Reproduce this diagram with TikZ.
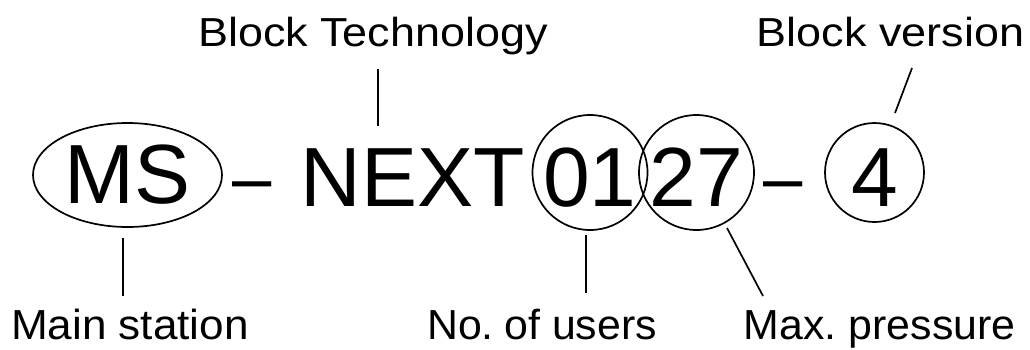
\documentclass[tikz,border=0pt]{standalone}
\usepackage{fontspec}
\usepackage{graphicx}
\setmainfont{Liberation Sans}
\usetikzlibrary{shapes.geometric}
\newcommand{\bigdash}{\raisebox{3pt}{\scalebox{0.84}[0.9]{–}}}
\begin{document}
\begin{tikzpicture}[x=1pt,y=-1pt,
  big/.style={font=\fontsize{84}{90}\selectfont, inner sep=0pt},
  toplbl/.style={font=\fontsize{40.5}{45}\selectfont, inner sep=0pt, anchor=base},
  botlbl/.style={font=\fontsize{42}{46}\selectfont, inner sep=0pt, anchor=base},
  ring/.style={big, draw, circle, line width=1.7pt, text height=67pt, text depth=0pt},
  lead/.style={line width=1.7pt}]
\useasboundingbox (0,0) rectangle (1030,349);
% main code
\node[big, draw, ellipse, line width=1.7pt, minimum width=189pt, minimum height=104pt] (ms) at (127.5,175) {MS};
\node[big, anchor=base] (d1) at (252,206) {\bigdash};
\node[big, anchor=base] (next) at (412.5,206) {NEXT};
\node[ring, minimum size=100pt] (c01) at (590,172.5) {01};
\node[ring, minimum size=102pt] (c27) at (696.5,172.5) {27};
\node[big, anchor=base] (d2) at (783.5,206) {\bigdash};
\node[ring, minimum size=99pt] (c4) at (874.5,172.5) {4};
% labels
\node[toplbl] (ltech) at (373,46) {\scalebox{1.11}[1]{Block Technology}};
\node[toplbl] (lver) at (890.5,46) {\scalebox{1.11}[1]{Block version}};
\node[botlbl] (lmain) at (130,339) {\scalebox{1.05}[1]{Main station}};
\node[botlbl] (lusers) at (542,339) {\scalebox{1.02}[1]{No.\hspace{-0.12em} of users}};
\node[botlbl] (lpress) at (879.5,339) {\scalebox{1.02}[1]{Max.\hspace{-0.08em} pressure}};
% connector ends
\coordinate (ms1) at (123,238);   \coordinate (ms2) at (123,296);
\coordinate (te1) at (378,126);   \coordinate (te2) at (378,69);
\coordinate (ve1) at (895,113);   \coordinate (ve2) at (912,68);
\coordinate (us1) at (586,235);   \coordinate (us2) at (586,293);
\coordinate (pr1) at (727,228);   \coordinate (pr2) at (763,296);
\draw[lead] (ms1) -- (ms2);
\draw[lead] (te1) -- (te2);
\draw[lead] (ve1) -- (ve2);
\draw[lead] (us1) -- (us2);
\draw[lead] (pr1) -- (pr2);
\end{tikzpicture}
\end{document}
